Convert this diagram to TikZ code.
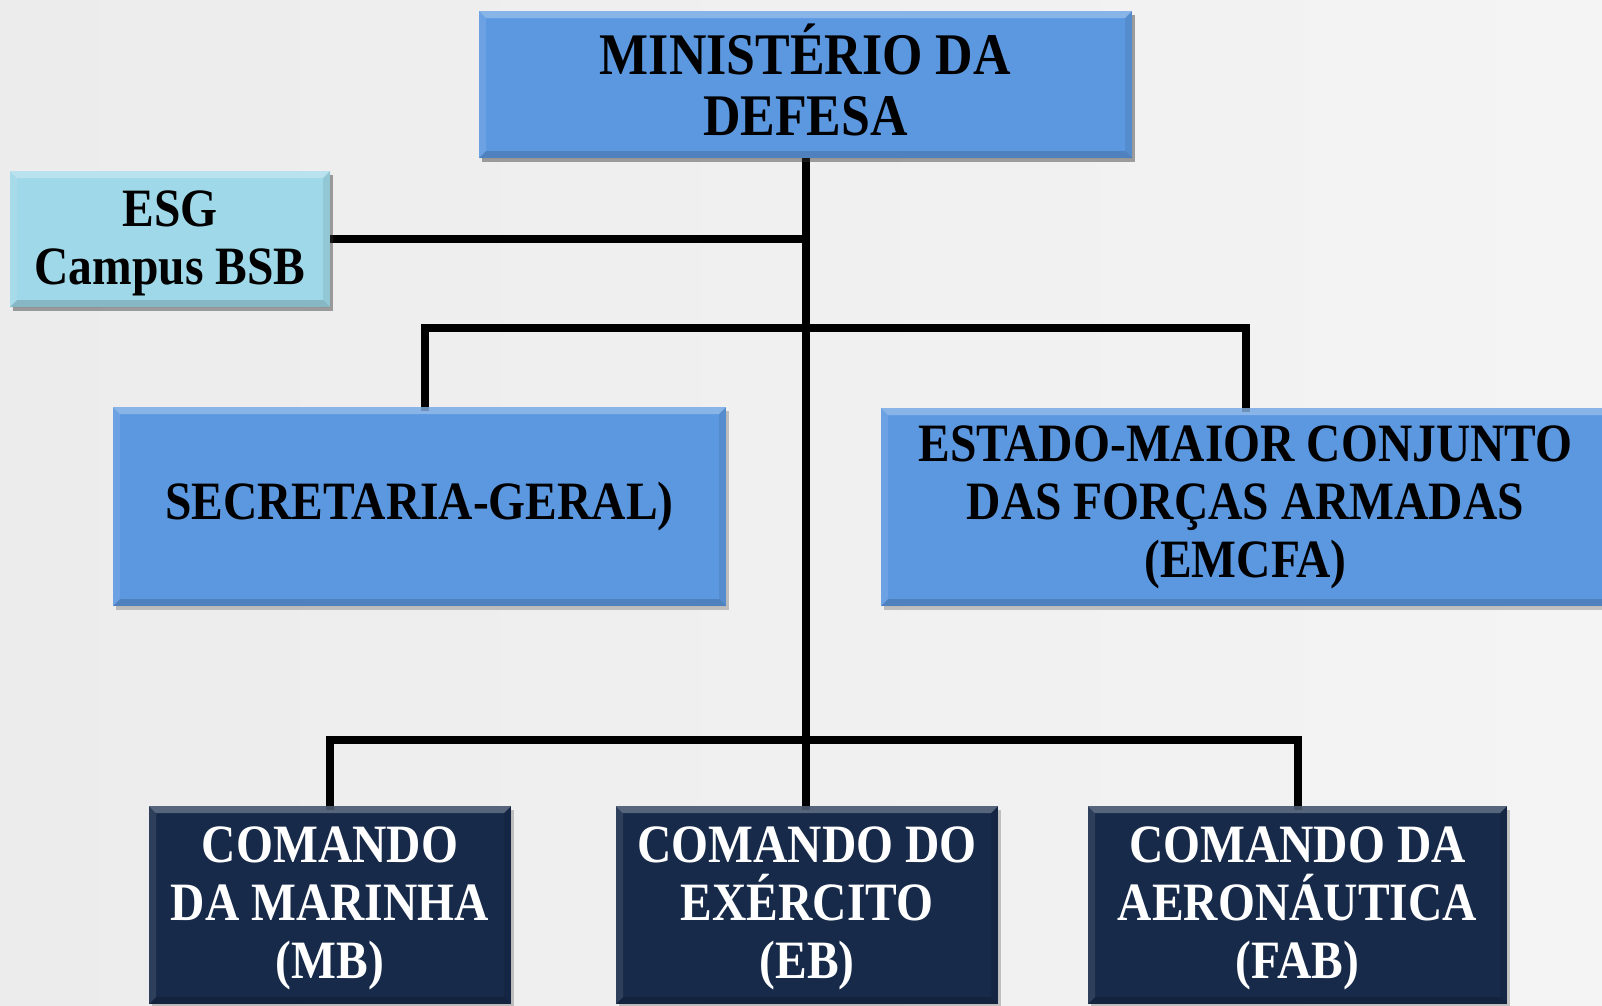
\documentclass[tikz,border=0pt]{standalone}
\usepackage{fontspec}
\setmainfont{Liberation Serif}[FakeStretch=0.88]
\usetikzlibrary{shadows}
\definecolor{bgl}{HTML}{ECECEC}
\definecolor{bgr}{HTML}{F4F4F4}
\definecolor{midblue}{HTML}{5C98E0}
\definecolor{lightblue}{HTML}{9FD8E8}
\definecolor{navy}{HTML}{172A4A}
\tikzset{
  bevel/.style={path picture={
    \fill[white,opacity=0.28] (path picture bounding box.north west) -- (path picture bounding box.north east)
      -- ([xshift=-7pt,yshift=-7pt]path picture bounding box.north east) -- ([xshift=7pt,yshift=-7pt]path picture bounding box.north west) -- cycle;
    \fill[black,opacity=0.15] (path picture bounding box.south west) -- (path picture bounding box.south east)
      -- ([xshift=-7pt,yshift=7pt]path picture bounding box.south east) -- ([xshift=7pt,yshift=7pt]path picture bounding box.south west) -- cycle;
    \fill[white,opacity=0.10] (path picture bounding box.north west) -- ([xshift=7pt,yshift=-7pt]path picture bounding box.north west)
      -- ([xshift=7pt,yshift=7pt]path picture bounding box.south west) -- (path picture bounding box.south west) -- cycle;
    \fill[black,opacity=0.08] (path picture bounding box.north east) -- ([xshift=-7pt,yshift=-7pt]path picture bounding box.north east)
      -- ([xshift=-7pt,yshift=7pt]path picture bounding box.south east) -- (path picture bounding box.south east) -- cycle;
  }},
  box/.style={rectangle, bevel, align=center, inner sep=0pt, font=\bfseries\fontsize{54}{58}\selectfont,
    drop shadow={shadow xshift=3pt, shadow yshift=-4pt, opacity=0.3, fill=black!70}},
  bluebox/.style={box, fill=midblue, text=black},
  lightbox/.style={box, fill=lightblue, text=black},
  navybox/.style={box, fill=navy, text=white},
  conn/.style={line width=8pt, black, line cap=rect},
  connshadow/.style={line width=8pt, black, opacity=0.2, line cap=rect, xshift=3pt, yshift=-5pt}
}
\begin{document}
\begin{tikzpicture}[x=1pt,y=-1pt]
\useasboundingbox (0,0) rectangle (1602,1005);
\shade[left color=bgl, right color=bgr] (0,0) rectangle (1602,1005);

\coordinate (bus1) at (806,328);
\coordinate (bus2) at (806,740);

\node[bluebox, minimum width=653pt, minimum height=147pt] (md) at (805.5,84.5) {};
\node[lightbox, minimum width=320pt, minimum height=136pt] (esg) at (170,239) {};
\node[bluebox, minimum width=613pt, minimum height=199pt] (sg) at (419.5,506.5) {SECRETARIA-GERAL)};
\node[bluebox, minimum width=729pt, minimum height=198pt] (emcfa) at (1245.5,507) {ESTADO-MAIOR CONJUNTO\\DAS FORÇAS ARMADAS\\(EMCFA)};
\node[navybox, minimum width=362pt, minimum height=198pt] (mb) at (330,905) {};
\node[navybox, minimum width=382pt, minimum height=198pt] (eb) at (807,905) {};
\node[navybox, minimum width=419pt, minimum height=198pt] (fab) at (1297.5,905) {};
\coordinate (sgtop) at ([xshift=5.5pt]sg.north);

% connector shadows
\draw[connshadow] (md.south -| bus1) -- (eb.north -| bus1);
\draw[connshadow] (esg.east) -- (esg.east -| bus1);
\draw[connshadow] (sgtop) -- (sgtop |- bus1) -- (emcfa.north |- bus1) -- (emcfa.north);
\draw[connshadow] (mb.north) -- (mb.north |- bus2) -- (fab.north |- bus2) -- (fab.north);

% connectors
\draw[conn, line cap=butt] (md.south -| bus1) -- (eb.north -| bus1);
\draw[conn, line cap=butt] (esg.east) -- (esg.east -| bus1);
\draw[conn] (sgtop |- bus1) -- (emcfa.north |- bus1);
\draw[conn, line cap=butt] (emcfa.north |- bus1) -- (emcfa.north);
\draw[conn, line cap=butt] (sgtop |- bus1) -- (sgtop);
\draw[conn] (mb.north |- bus2) -- (fab.north |- bus2);
\draw[conn, line cap=butt] (mb.north |- bus2) -- (mb.north);
\draw[conn, line cap=butt] (fab.north |- bus2) -- (fab.north);

% redraw boxes tops over connector shadows
\node[bluebox, minimum width=653pt, minimum height=147pt] at (805.5,84.5) {};
\node[font=\bfseries\fontsize{59}{61}\selectfont, align=center, inner sep=0pt] (mdt) at (805.5,80) {MINISTÉRIO DA\\DEFESA};
\node[lightbox, minimum width=320pt, minimum height=136pt] at (170,239) {};
\node[font=\bfseries\fontsize{54}{58}\selectfont, align=center, inner sep=0pt] (esgt) at (170,243) {ESG\\Campus BSB};
\node[text=white, font=\bfseries\fontsize{54}{58}\selectfont, align=center, inner sep=0pt] (mbt) at (330,908) {COMANDO\\DA MARINHA\\(MB)};
\node[text=white, font=\bfseries\fontsize{54}{58}\selectfont, align=center, inner sep=0pt] (ebt) at (807,908) {COMANDO DO\\EXÉRCITO\\(EB)};
\node[text=white, font=\bfseries\fontsize{54}{58}\selectfont, align=center, inner sep=0pt] (fabt) at (1297.5,908) {COMANDO DA\\AERONÁUTICA\\(FAB)};
\end{tikzpicture}
\end{document}
